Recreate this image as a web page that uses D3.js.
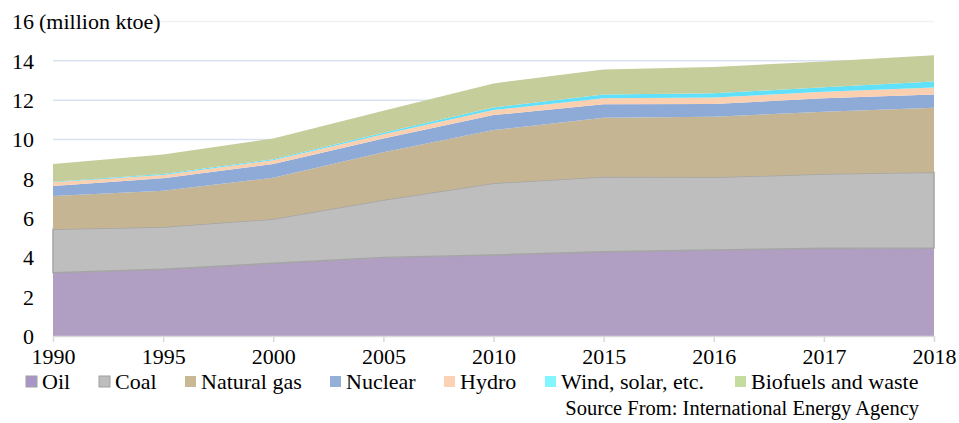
<!DOCTYPE html>
<html>
<head>
<meta charset="utf-8">
<script src="https://cdn.jsdelivr.net/npm/d3@7"></script>
<style>
  body { margin: 0; background: #fff; }
  text { font-family: "Liberation Serif", "Times New Roman", serif; fill: #000; }
</style>
</head>
<body>
<script>
// data (million ktoe)
var years = ["1990", "1995", "2000", "2005", "2010", "2015", "2016", "2017", "2018"];
var oil = [3.22, 3.39, 3.70, 4.00, 4.12, 4.29, 4.37, 4.46, 4.48];
var coal = [2.21, 2.15, 2.25, 2.92, 3.65, 3.81, 3.70, 3.78, 3.85];
var gas = [1.69, 1.85, 2.10, 2.43, 2.71, 3.00, 3.08, 3.17, 3.28];
var nuclear = [0.51, 0.63, 0.70, 0.70, 0.76, 0.69, 0.65, 0.68, 0.68];
var hydro = [0.19, 0.17, 0.19, 0.22, 0.26, 0.30, 0.33, 0.33, 0.35];
var wind = [0.03, 0.05, 0.05, 0.07, 0.13, 0.20, 0.22, 0.23, 0.31];
var bio = [0.90, 1.00, 1.06, 1.12, 1.22, 1.27, 1.34, 1.31, 1.33];
var yTicks = [0, 2, 4, 6, 8, 10, 12, 14, 16];

var keys = ["Oil", "Coal", "Natural gas", "Nuclear", "Hydro", "Wind, solar, etc.", "Biofuels and waste"];
var series = [oil, coal, gas, nuclear, hydro, wind, bio];
var colors = ["#b09fc2", "#bebebe", "#c5b593", "#8eaad6", "#fbd0b0", "#5fe0fb", "#c5cd9b"];
var legendColors = ["#a897c6", "#bdbdbd", "#c8b994", "#94afd8", "#fbd3b4", "#82f5ff", "#c5dca0"];

var rows = years.map(function(y, i) {
  var r = {year: y};
  keys.forEach(function(k, j) { r[k] = series[j][i]; });
  return r;
});

var width = 959, height = 423;
var svg = d3.select("body").append("svg")
  .attr("width", width)
  .attr("height", height);

var x = d3.scalePoint().domain(years).range([53, 934]);
var y = d3.scaleLinear().domain([0, 16]).range([336, 21.5]);

// gridlines
svg.append("g").selectAll("line")
  .data(yTicks.filter(function(d) { return d > 0; }))
  .enter().append("line")
  .attr("x1", 53).attr("x2", 934)
  .attr("y1", function(d) { return y(d); })
  .attr("y2", function(d) { return y(d); })
  .attr("stroke", function(d) { return d == 16 ? "#f2f2f2" : "#dae1f0"; })
  .attr("stroke-width", 1.5);

var stack = d3.stack().keys(keys);
var layers = stack(rows);

var area = d3.area()
  .x(function(d) { return x(d.data.year); })
  .y0(function(d) { return y(d[0]); })
  .y1(function(d) { return y(d[1]); });

svg.append("g").selectAll("path")
  .data(layers)
  .enter().append("path")
  .attr("d", area)
  .attr("fill", function(d, i) { return colors[i]; })
  .attr("stroke", function(d, i) { return i == 1 ? "#a5a5a5" : "none"; })
  .attr("stroke-width", 1.5);

// x axis
var xAxis = svg.append("g")
  .attr("transform", "translate(0," + y(0) + ")")
  .call(d3.axisBottom(x).tickSize(6).tickSizeOuter(0));
xAxis.select(".domain").attr("stroke", "#d9d9d9").attr("stroke-width", 1.5);
xAxis.selectAll(".tick line").attr("stroke", "#d9d9d9").attr("stroke-width", 1.5);
xAxis.selectAll(".tick text")
  .attr("y", 28)
  .attr("dy", 0)
  .style("font-size", "22px")
  .style("font-family", "Liberation Serif");

// y axis
var yAxis = svg.append("g")
  .attr("transform", "translate(34,0)")
  .call(d3.axisLeft(y).tickValues(yTicks).tickSize(0).tickPadding(0));
yAxis.select(".domain").remove();
yAxis.selectAll(".tick text")
  .attr("dy", "0.34em")
  .style("font-size", "22px")
  .style("font-family", "Liberation Serif");

svg.append("text")
  .attr("x", 39)
  .attr("y", y(16))
  .attr("dy", "0.34em")
  .attr("font-size", "22px")
  .text("(million ktoe)");

// legend
var legendX = [26, 99, 185, 330, 444, 545, 735];
var legend = svg.append("g").selectAll("g")
  .data(keys)
  .enter().append("g")
  .attr("transform", function(d, i) { return "translate(" + legendX[i] + ",376)"; });
legend.append("rect")
  .attr("width", 11).attr("height", 11)
  .attr("fill", function(d, i) { return legendColors[i]; })
  .attr("stroke", function(d, i) { return i < 2 ? "#a0a0a0" : "none"; })
  .attr("stroke-width", 1);
legend.append("text")
  .attr("x", 16)
  .attr("y", 13)
  .attr("font-size", "22px")
  .text(function(d) { return d; });

svg.append("text")
  .attr("x", 919)
  .attr("y", 415)
  .attr("text-anchor", "end")
  .attr("font-size", "20.5px")
  .text("Source From: International Energy Agency");
</script>
</body>
</html>
